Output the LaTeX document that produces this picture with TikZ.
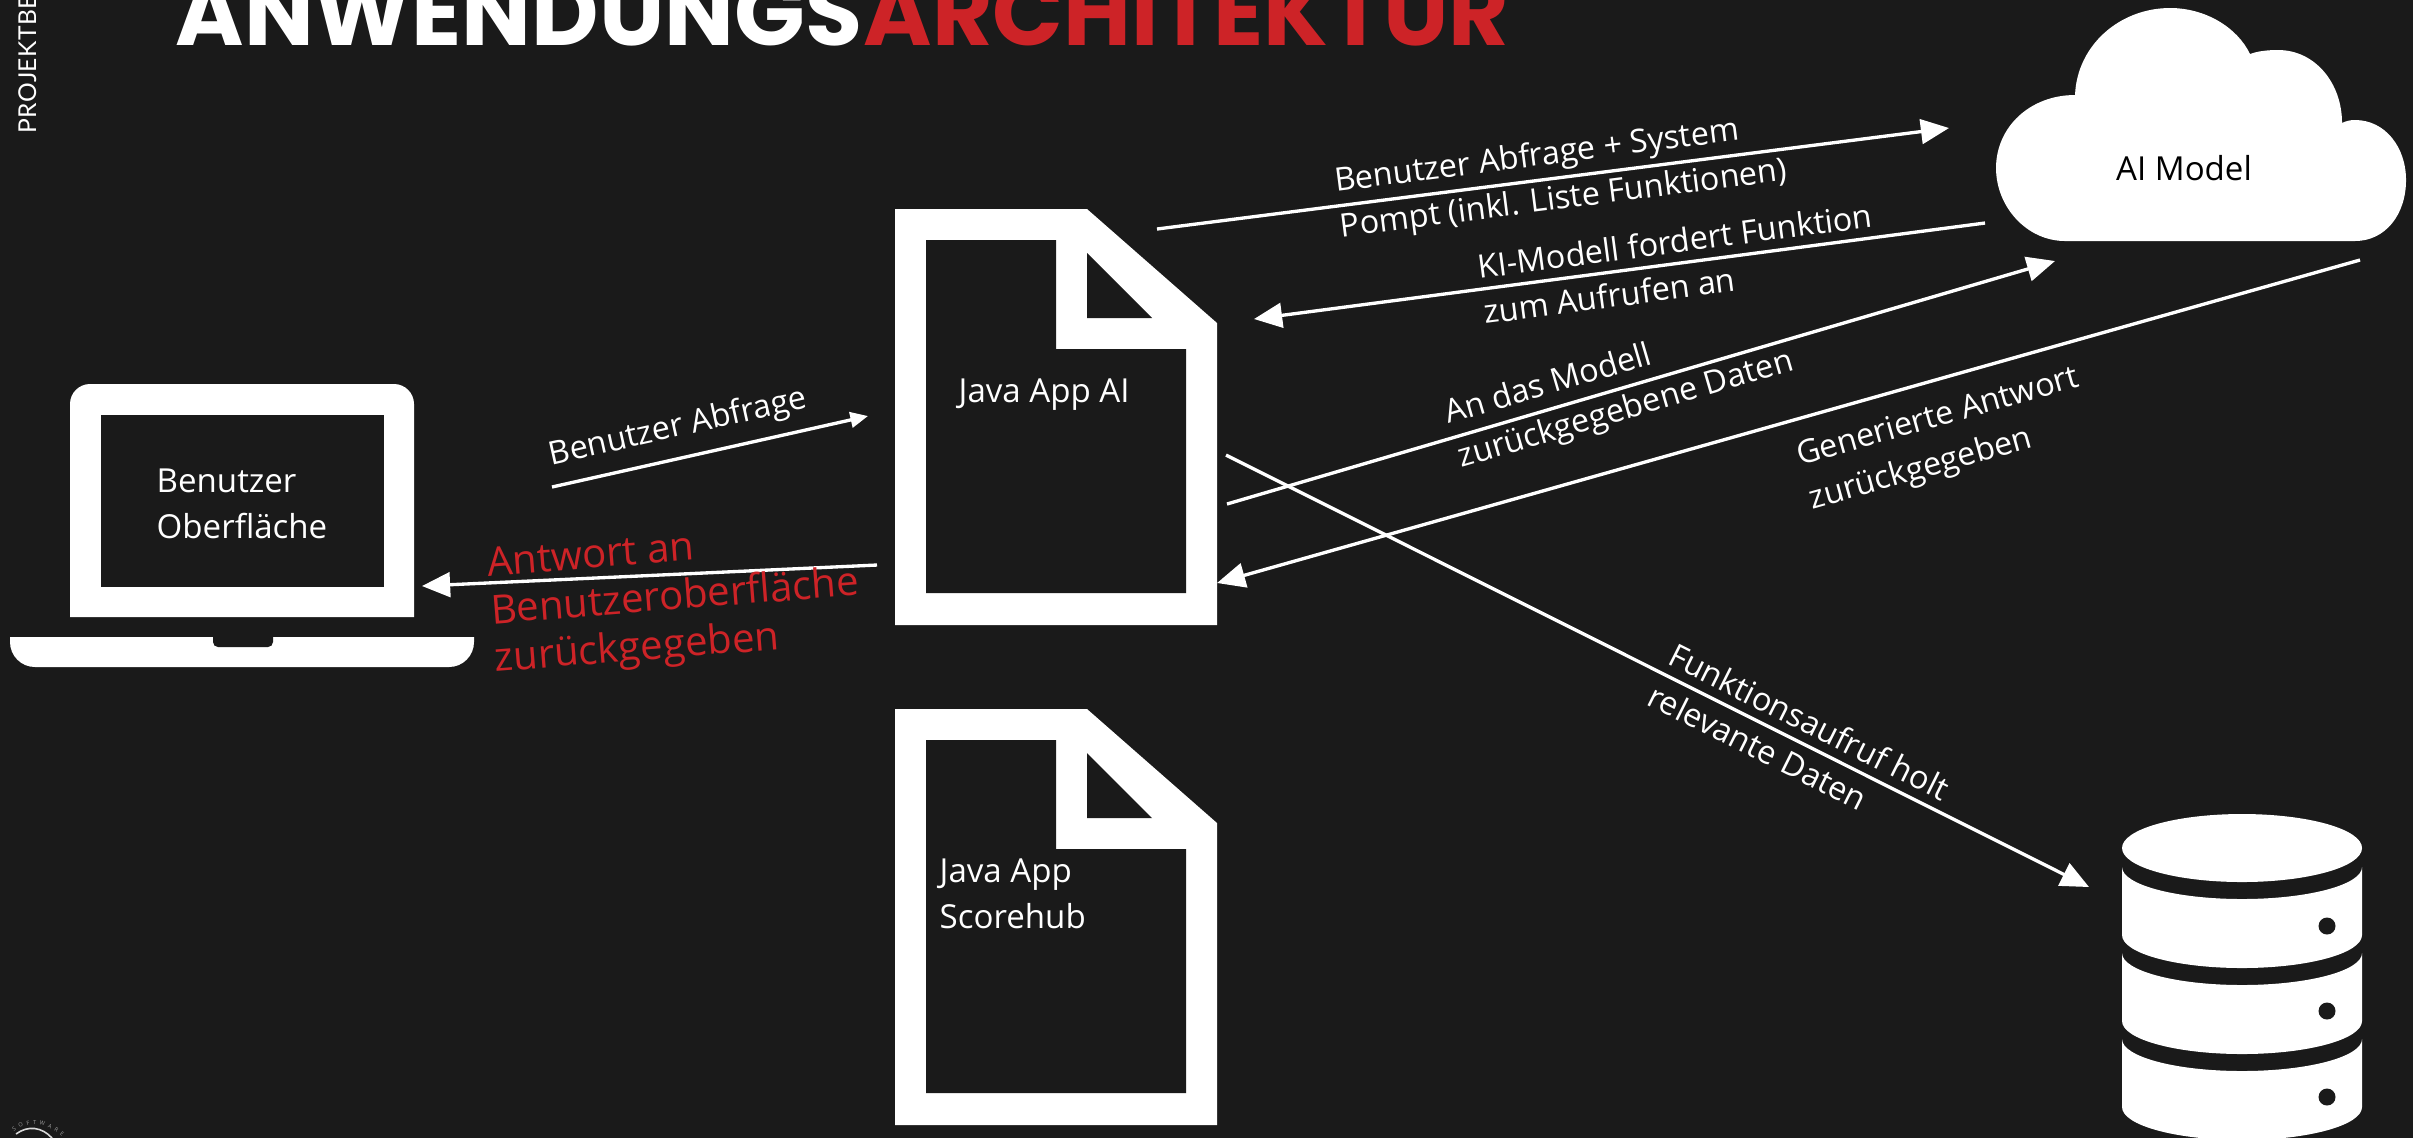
\documentclass[tikz,border=0pt]{standalone}
\usepackage{xcolor}
\usepackage{fontspec}
\usepackage{tikz}
\usetikzlibrary{arrows.meta,positioning,decorations.text}
\setmainfont{Open Sans}
\newfontfamily\titlefont{Poppins}
\newfontfamily\sidefont[LetterSpace=2]{Lato}
\definecolor{bgdark}{HTML}{1A1A1A}
\definecolor{brandred}{HTML}{CD2327}

\begin{document}
\begin{tikzpicture}[x=0.01cm, y=-0.01cm]
    % Styles
    \tikzstyle{icon} = [fill=white]
    \tikzstyle{hole} = [fill=bgdark]
    \tikzstyle{arrow} = [line width=0.95pt, white, -{Triangle[length=8pt,width=7pt]}]
    \tikzstyle{smallarrow} = [line width=0.95pt, white, -{Triangle[length=5pt,width=4.4pt]}]
    \tikzstyle{iconlabel} = [text=white, inner sep=0pt, align=left, font=\fontsize{9.4}{13}\selectfont]
    \tikzstyle{connlabel} = [iconlabel, sloped, font=\fontsize{9.2}{13}\selectfont]
    \tikzstyle{titletext} = [inner sep=0pt, font=\titlefont\bfseries\fontsize{26.4}{32}\selectfont]

    % Background
    \useasboundingbox (0,0) rectangle (2413,1138);
    \clip (0,0) rectangle (2413,1138);
    \fill[bgdark] (0,0) rectangle (2413,1138);

    % Title
    \node [titletext, text=white, anchor=base west] (titlewhite) at (175,45) {ANWENDUNGS};
    \node [titletext, text=brandred, anchor=base west] (titlered) at (titlewhite.base east) {ARCHITEKTUR};
    \node [text=white, inner sep=0pt, rotate=90, anchor=base west, font=\sidefont\fontsize{7}{8}\selectfont] (sidetext) at (36,134) {PROJEKTBE};

    % Logo
    \draw[white!85!black, line width=0.45pt] (16,1134) .. controls (28,1125) and (42,1127) .. (52,1138);
    \path[decorate, decoration={text along path, text align={fit to path}, text={|\fontsize{1.6}{2}\selectfont\color{white!60!black}|SOFTWARE}}] (14,1131) .. controls (28,1121) and (45,1122) .. (62,1136);

    % Laptop
    \fill[icon] (70,617) [rounded corners=0.2cm] -- (70,384) -- (414,384) [sharp corners] -- (414,617) -- cycle;
    \fill[hole] (101,415) rectangle (384,587);
    \fill[icon] (10,637) -- (474,637) [rounded corners=0.25cm] -- (474,667) -- (10,667) [sharp corners] -- cycle;
    \fill[hole] (213,637) [rounded corners=0.05cm] -- (213,647) -- (273,647) [sharp corners] -- (273,637) -- cycle;
    \node [iconlabel, anchor=west] (userui) at (156,504) {Benutzer\\Oberfläche};

    % Documents
    \fill[icon] (895,209) -- (1087,209) -- (1217,323) -- (1217,625) -- (895,625) -- cycle;
    \fill[hole] (926,240) -- (1056,240) -- (1056,349) -- (1186,349) -- (1186,593) -- (926,593) -- cycle;
    \fill[hole] (1087,253) -- (1152,318) -- (1087,318) -- cycle;
    \node [iconlabel, anchor=base west] (javaai) at (958,402) {Java App AI};

    \fill[icon] (895,709) -- (1087,709) -- (1217,823) -- (1217,1125) -- (895,1125) -- cycle;
    \fill[hole] (926,740) -- (1056,740) -- (1056,849) -- (1186,849) -- (1186,1093) -- (926,1093) -- cycle;
    \fill[hole] (1087,753) -- (1152,818) -- (1087,818) -- cycle;
    \node [iconlabel, anchor=west] (javascore) at (939,894) {Java App\\Scorehub};

    % Cloud
    \fill[icon] (2075,95) .. controls (2077,45) and (2120,8) .. (2170,8) .. controls (2205,8) and (2237,27) .. (2250,54)
        .. controls (2258,51) and (2268,50) .. (2278,50) .. controls (2315,50) and (2342,83) .. (2342,123)
        .. controls (2346,121) and (2350,120) .. (2355,120) .. controls (2385,120) and (2406,147) .. (2406,180)
        .. controls (2406,215) and (2385,241) .. (2355,241) -- (2065,241)
        .. controls (2027,241) and (1996,207) .. (1996,168) .. controls (1996,127) and (2030,95) .. (2075,95) -- cycle;
    \node [iconlabel, text=black] (aimodel) at (2184,168) {AI Model};

    % Database
    \fill[icon] (2242,848) ellipse [x radius=120, y radius=34];
    \fill[icon] (2122,867) -- (2122,935) arc [start angle=180, end angle=0, x radius=120, y radius=33] -- (2362,867) arc [start angle=0, end angle=180, x radius=120, y radius=32] -- cycle;
    \fill[icon] (2122,953) -- (2122,1021) arc [start angle=180, end angle=0, x radius=120, y radius=33] -- (2362,953) arc [start angle=0, end angle=180, x radius=120, y radius=32] -- cycle;
    \fill[icon] (2122,1039) -- (2122,1107) arc [start angle=180, end angle=0, x radius=120, y radius=33] -- (2362,1039) arc [start angle=0, end angle=180, x radius=120, y radius=32] -- cycle;
    \fill[hole] (2327,926) circle [radius=8.5];
    \fill[hole] (2327,1011) circle [radius=8.5];
    \fill[hole] (2327,1097) circle [radius=8.5];

    % Connection ends
    \coordinate (queryfrom) at (552,487);
    \coordinate (queryto) at (868,416);
    \coordinate (replyfrom) at (877,565);
    \coordinate (replyto) at (422,586);
    \coordinate (promptfrom) at (1157,229);
    \coordinate (promptto) at (1949,128);
    \coordinate (callfrom) at (1985,223);
    \coordinate (callto) at (1254,319);
    \coordinate (datafrom) at (1227,504);
    \coordinate (datato) at (2055,261);
    \coordinate (answerfrom) at (2360,260);
    \coordinate (answerto) at (1217,583);
    \coordinate (fetchfrom) at (1226,455);
    \coordinate (fetchto) at (2089,887);

    % Connection
    \draw[smallarrow] (queryfrom) -- node[connlabel, above=0.12cm, pos=0.42] (querylabel) {Benutzer Abfrage} (queryto);
    \draw[arrow] (replyfrom) -- (replyto);
    \node [iconlabel, text=brandred, rotate=4.5, font=\fontsize{11.4}{13.6}\selectfont] (replylabel) at (675,600) {Antwort an\\Benutzeroberfläche\\zurückgegeben};
    \draw[arrow] (promptfrom) -- node[connlabel, pos=0.51] (promptlabel) {Benutzer Abfrage + System\\Pompt (inkl. Liste Funktionen)} (promptto);
    \draw[arrow] (callfrom) -- node[connlabel, pos=0.42] (calllabel) {KI-Modell fordert Funktion\\zum Aufrufen an} (callto);
    \draw[arrow] (datafrom) -- node[connlabel, pos=0.474] (datalabel) {An das Modell\\zurückgegebene Daten} (datato);
    \draw[arrow] (answerfrom) -- node[connlabel, below=0.2cm, pos=0.378] (answerlabel) {Generierte Antwort\\zurückgegeben} (answerto);
    \draw[arrow] (fetchfrom) -- node[connlabel, pos=0.664] (fetchlabel) {Funktionsaufruf holt\\relevante Daten} (fetchto);
\end{tikzpicture}
\end{document}
